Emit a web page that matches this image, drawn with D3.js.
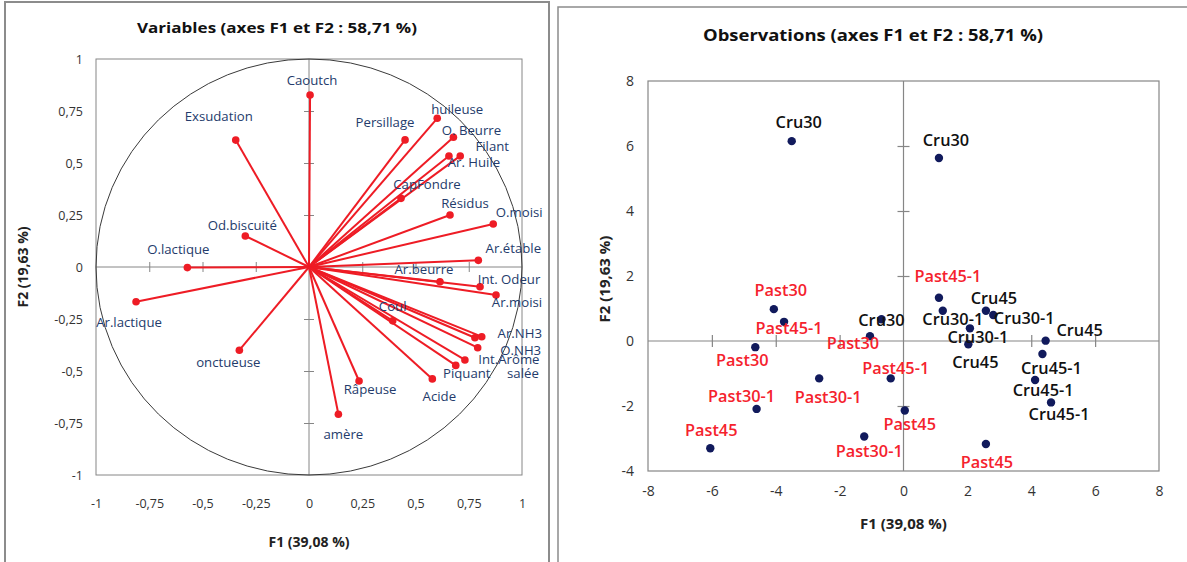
<!DOCTYPE html>
<html>
<head>
<meta charset="utf-8">
<script src="https://cdn.jsdelivr.net/npm/d3@7/dist/d3.min.js"></script>
<style>
  html, body { margin: 0; padding: 0; background: #ffffff; }
  svg { display: block; font-family: "Open Sans", "DejaVu Sans", sans-serif; }
</style>
</head>
<body>
<svg id="chart" width="1187" height="562"></svg>
<script>
// ---- Variables: correlation circle (F1 x F2) ----
const varNames = ["Caoutch", "Exsudation", "Od.biscuité", "O.lactique", "Ar.lactique", "onctueuse",
  "Persillage", "huileuse", "O. Beurre", "Filant", "Ar. Huile", "CapFondre", "Résidus", "O.moisi",
  "Ar.étable", "Ar.beurre", "Int. Odeur", "Ar.moisi", "Coul", "Ar.NH3", "salée", "O.NH3",
  "Int.Arôme", "Piquant", "Acide", "Râpeuse", "amère"];
const varF1 = [0.005, -0.344, -0.299, -0.571, -0.812, -0.327,
  0.451, 0.602, 0.678, 0.710, 0.657, 0.432, 0.662, 0.865,
  0.795, 0.615, 0.803, 0.878, 0.393, 0.811, 0.779, 0.792,
  0.732, 0.689, 0.579, 0.235, 0.138];
const varF2 = [0.827, 0.610, 0.149, -0.003, -0.167, -0.400,
  0.611, 0.715, 0.624, 0.534, 0.534, 0.330, 0.250, 0.207,
  0.032, -0.071, -0.095, -0.135, -0.259, -0.335, -0.340, -0.388,
  -0.447, -0.473, -0.538, -0.548, -0.708];
const varTicks = [-1, -0.75, -0.5, -0.25, 0, 0.25, 0.5, 0.75, 1];

// ---- Observations: individual scores (F1 x F2) ----
const obsNames = ["Cru30", "Cru30", "Cru30", "Cru30-1", "Cru30-1", "Cru30-1",
  "Cru45", "Cru45", "Cru45", "Cru45-1", "Cru45-1", "Cru45-1",
  "Past30", "Past30", "Past30", "Past30-1", "Past30-1", "Past30-1",
  "Past45", "Past45", "Past45", "Past45-1", "Past45-1", "Past45-1"];
const obsF1 = [-3.50, 1.11, -0.69, 1.23, 2.81, 2.08,
  2.58, 2.03, 4.45, 4.35, 4.12, 4.62,
  -4.06, -4.64, -1.05, -2.64, -4.60, -1.23,
  -6.05, 0.04, 2.58, -3.74, -0.40, 1.11];
const obsF2 = [6.15, 5.63, 0.67, 0.93, 0.80, 0.39,
  0.93, -0.10, 0.01, -0.40, -1.20, -1.89,
  0.98, -0.19, 0.15, -1.15, -2.09, -2.94,
  -3.30, -2.14, -3.17, 0.59, -1.15, 1.33];
const obsXTicks = [-8, -6, -4, -2, 0, 2, 4, 6, 8];
const obsYTicks = [-4, -2, 0, 2, 4, 6, 8];

// French number formatting (comma decimal, plain hyphen minus)
const fr = d3.formatLocale({ decimal: ",", thousands: " ", grouping: [3], currency: ["", " €"], minus: "-" });
const fmt = fr.format("~g");

const svg = d3.select("#chart");
const GRID = "#868686";

// Panel frames
svg.append("rect").attr("x", 5).attr("y", 2).attr("width", 544).attr("height", 580)
  .attr("fill", "none").attr("stroke", "#8c8c8c").attr("stroke-width", 2);
svg.append("rect").attr("x", 558).attr("y", 7).attr("width", 640).attr("height", 580)
  .attr("fill", "none").attr("stroke", "#8c8c8c").attr("stroke-width", 1.5);

// ================= Left: variables =================
const x1 = d3.scaleLinear().domain([-1, 1]).range([96, 522]);
const y1 = d3.scaleLinear().domain([-1, 1]).range([475, 59]);
const g1 = svg.append("g");

g1.append("rect").attr("x", x1(-1)).attr("y", y1(1))
  .attr("width", x1(1) - x1(-1)).attr("height", y1(-1) - y1(1))
  .attr("fill", "none").attr("stroke", GRID).attr("stroke-width", 1);

// zero lines with crossing tick marks
g1.append("line").attr("x1", x1(-1)).attr("x2", x1(1)).attr("y1", y1(0)).attr("y2", y1(0))
  .attr("stroke", GRID);
g1.append("line").attr("x1", x1(0)).attr("x2", x1(0)).attr("y1", y1(1)).attr("y2", y1(-1))
  .attr("stroke", GRID);
const innerV = varTicks.filter(v => v !== 0 && Math.abs(v) !== 1);
g1.append("g").attr("transform", `translate(0,${y1(0) - 5})`)
  .call(d3.axisBottom(x1).tickValues(innerV).tickSize(10).tickFormat(""))
  .call(a => { a.select(".domain").remove(); a.selectAll("line").attr("stroke", GRID); });
g1.append("g").attr("transform", `translate(${x1(0) + 5},0)`)
  .call(d3.axisLeft(y1).tickValues(innerV).tickSize(10).tickFormat(""))
  .call(a => { a.select(".domain").remove(); a.selectAll("line").attr("stroke", GRID); });

// tick labels
g1.append("g").attr("transform", `translate(0,${y1(-1)})`)
  .call(d3.axisBottom(x1).tickValues(varTicks).tickSize(0).tickPadding(24).tickFormat(fmt))
  .call(a => { a.select(".domain").remove();
    a.selectAll("text").attr("font-size", 12.5).attr("fill", "#333").attr("font-family", "Open Sans"); });
g1.append("g").attr("transform", `translate(${x1(-1)},0)`)
  .call(d3.axisLeft(y1).tickValues(varTicks).tickSize(0).tickPadding(13).tickFormat(fmt))
  .call(a => { a.select(".domain").remove();
    a.selectAll("text").attr("font-size", 12.5).attr("fill", "#333").attr("font-family", "Open Sans"); });

// unit circle
g1.append("ellipse").attr("cx", x1(0)).attr("cy", y1(0))
  .attr("rx", x1(1) - x1(0)).attr("ry", y1(0) - y1(1))
  .attr("fill", "none").attr("stroke", "#3a3a3a").attr("stroke-width", 1);

const vars = varNames.map((n, i) => ({ name: n, f1: varF1[i], f2: varF2[i] }));

g1.selectAll("line.vec").data(vars).join("line").attr("class", "vec")
  .attr("x1", x1(0)).attr("y1", y1(0))
  .attr("x2", d => x1(d.f1)).attr("y2", d => y1(d.f2))
  .attr("stroke", "#ee1c25").attr("stroke-width", 2);
g1.selectAll("circle.vdot").data(vars).join("circle").attr("class", "vdot")
  .attr("cx", d => x1(d.f1)).attr("cy", d => y1(d.f2)).attr("r", 3.8)
  .attr("fill", "#ee1c25");

// label placement (pixel shift of label centre from its point)
const varLabelShift = {
  "Caoutch": [2, -15], "Exsudation": [-17, -24], "Od.biscuité": [-3, -11], "O.lactique": [-9, -19],
  "Ar.lactique": [-7, 20], "onctueuse": [-11, 12], "Persillage": [-20, -18], "huileuse": [20, -9],
  "O. Beurre": [18, -7], "Filant": [32, -10], "Ar. Huile": [25, 6], "CapFondre": [26, -14],
  "Résidus": [15, -12], "O.moisi": [26, -12], "Ar.étable": [35, -12], "Ar.beurre": [-16, -13],
  "Int. Odeur": [29, -8], "Ar.moisi": [21, 7], "Coul": [0, -15], "Ar.NH3": [38, -4],
  "salée": [48, 35], "O.NH3": [43, 2], "Int.Arôme": [44, -1], "Piquant": [11, 8],
  "Acide": [7, 17], "Râpeuse": [11, 8], "amère": [5, 20]
};
g1.selectAll("text.vlab").data(vars).join("text").attr("class", "vlab")
  .attr("x", d => x1(d.f1) + varLabelShift[d.name][0])
  .attr("y", d => y1(d.f2) + varLabelShift[d.name][1])
  .attr("text-anchor", "middle").attr("dominant-baseline", "central")
  .attr("font-size", 13.2).attr("fill", "#243b6b")
  .text(d => d.name);

// titles
g1.append("text").attr("x", 277).attr("y", 33).attr("text-anchor", "middle")
  .attr("font-size", 14.5).attr("font-weight", "bold").attr("fill", "#111")
  .attr("textLength", 280).attr("lengthAdjust", "spacingAndGlyphs")
  .text("Variables (axes F1 et F2 : 58,71 %)");
g1.append("text").attr("x", x1(0)).attr("y", 541).attr("text-anchor", "middle")
  .attr("dominant-baseline", "central")
  .attr("font-size", 14).attr("font-weight", "bold").attr("fill", "#222")
  .text("F1 (39,08 %)");
g1.append("text").attr("transform", `translate(22,${y1(0)}) rotate(-90)`)
  .attr("text-anchor", "middle").attr("dominant-baseline", "central")
  .attr("font-size", 14).attr("font-weight", "bold").attr("fill", "#222")
  .text("F2 (19,63 %)");

// ================= Right: observations =================
const x2 = d3.scaleLinear().domain([-8, 8]).range([648, 1159]);
const y2 = d3.scaleLinear().domain([-4, 8]).range([471, 81]);
const g2 = svg.append("g");

g2.append("rect").attr("x", x2(-8)).attr("y", y2(8))
  .attr("width", x2(8) - x2(-8)).attr("height", y2(-4) - y2(8))
  .attr("fill", "none").attr("stroke", GRID).attr("stroke-width", 1.2);
g2.append("line").attr("x1", x2(-8)).attr("x2", x2(8)).attr("y1", y2(0)).attr("y2", y2(0))
  .attr("stroke", GRID).attr("stroke-width", 1.2);
g2.append("line").attr("x1", x2(0)).attr("x2", x2(0)).attr("y1", y2(8)).attr("y2", y2(-4))
  .attr("stroke", GRID).attr("stroke-width", 1.2);
g2.append("g").attr("transform", `translate(0,${y2(0) - 6})`)
  .call(d3.axisBottom(x2).tickValues(obsXTicks.filter(v => v !== 0 && Math.abs(v) !== 8))
    .tickSize(12).tickFormat(""))
  .call(a => { a.select(".domain").remove(); a.selectAll("line").attr("stroke", GRID).attr("stroke-width", 1.2); });
g2.append("g").attr("transform", `translate(${x2(0) + 6},0)`)
  .call(d3.axisLeft(y2).tickValues(obsYTicks.filter(v => v !== 0 && v !== 8 && v !== -4))
    .tickSize(12).tickFormat(""))
  .call(a => { a.select(".domain").remove(); a.selectAll("line").attr("stroke", GRID).attr("stroke-width", 1.2); });

g2.append("g").attr("transform", `translate(0,${y2(-4)})`)
  .call(d3.axisBottom(x2).tickValues(obsXTicks).tickSize(0).tickPadding(15).tickFormat(fmt))
  .call(a => { a.select(".domain").remove();
    a.selectAll("text").attr("font-size", 14).attr("fill", "#333").attr("font-family", "Open Sans"); });
g2.append("g").attr("transform", `translate(${x2(-8)},0)`)
  .call(d3.axisLeft(y2).tickValues(obsYTicks).tickSize(0).tickPadding(14).tickFormat(fmt))
  .call(a => { a.select(".domain").remove();
    a.selectAll("text").attr("font-size", 14).attr("fill", "#333").attr("font-family", "Open Sans"); });

const obs = obsNames.map((n, i) => ({ name: n, f1: obsF1[i], f2: obsF2[i], i }));
g2.selectAll("circle.odot").data(obs).join("circle").attr("class", "odot")
  .attr("cx", d => x2(d.f1)).attr("cy", d => y2(d.f2)).attr("r", 4.2)
  .attr("fill", "#111a5c");

// label placement, in point order
const obsLabelShift = [
  [7, -19], [7, -18], [0, 1], [10, 8], [31, 3], [8, 9],
  [8, -13], [7, 18], [34, -11], [9, 14], [8, 10], [8, 12],
  [7, -19], [-13, 13], [-17, 7], [9, 19], [-15, -13], [5, 14],
  [1, -18], [5, 13], [1, 18], [5, 6], [5, -10], [9, -22]
];
g2.selectAll("text.olab").data(obs).join("text").attr("class", "olab")
  .attr("x", d => x2(d.f1) + obsLabelShift[d.i][0])
  .attr("y", d => y2(d.f2) + obsLabelShift[d.i][1])
  .attr("text-anchor", "middle").attr("dominant-baseline", "central")
  .attr("font-size", 16.3).attr("font-weight", 600)
  .attr("fill", d => d.name.startsWith("Past") ? "#f5222d" : "#111")
  .text(d => d.name);

g2.append("text").attr("x", 873).attr("y", 41).attr("text-anchor", "middle")
  .attr("font-size", 16).attr("font-weight", "bold").attr("fill", "#111")
  .attr("textLength", 340).attr("lengthAdjust", "spacingAndGlyphs")
  .text("Observations (axes F1 et F2 : 58,71 %)");
g2.append("text").attr("x", x2(0)).attr("y", 523).attr("text-anchor", "middle")
  .attr("dominant-baseline", "central")
  .attr("font-size", 15).attr("font-weight", "bold").attr("fill", "#222")
  .text("F1 (39,08 %)");
g2.append("text").attr("transform", `translate(604,${(y2(8) + y2(-4)) / 2 + 3}) rotate(-90)`)
  .attr("text-anchor", "middle").attr("dominant-baseline", "central")
  .attr("font-size", 15).attr("font-weight", "bold").attr("fill", "#222")
  .text("F2 (19,63 %)");
</script>
</body>
</html>
